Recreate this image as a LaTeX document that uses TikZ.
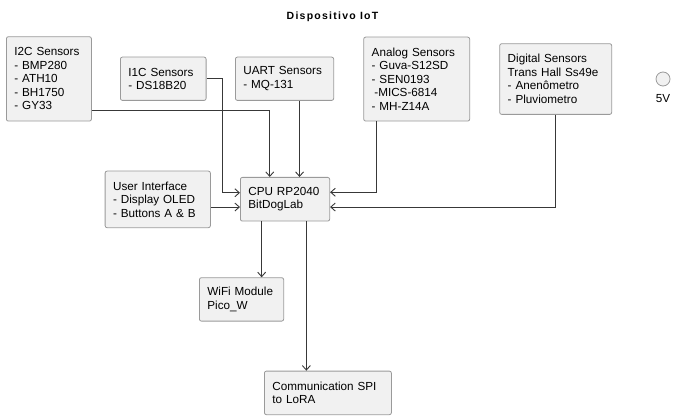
\documentclass[tikz,border=0pt]{standalone}
\usepackage{fontspec}
\setmainfont{Liberation Sans}
\usetikzlibrary{positioning,arrows.meta}
\definecolor{boxfill}{HTML}{F1F1F1}
\definecolor{boxdraw}{HTML}{9A9A9A}
\definecolor{wire}{HTML}{383838}
\tikzset{
  >={Straight Barb[length=4.5pt,width=8pt]},
  bloco/.style={
    rectangle,
    rounded corners=2pt,
    fill=boxfill,
    draw=boxdraw, line width=0.8pt,
    anchor=north west,
    inner xsep=8pt, inner ysep=0pt,
    align=left,
    font=\fontsize{11.7}{13.5}\selectfont
  },
  line/.style={draw=wire, line width=0.9pt, ->},
  rotulo/.style={font=\fontsize{11.7}{13.5}\selectfont, anchor=base},
}

\begin{document}
\begin{tikzpicture}
      [x=1pt, y=-1pt]
      \useasboundingbox (0,0) rectangle (676,419);
      \node[anchor=base, font=\fontsize{10.5}{12}\selectfont\bfseries\addfontfeatures{LetterSpace=12}]
        (titulo) at (332.5,19.3) {Dispositivo IoT};
      % sensores
      \node[bloco, text width=69pt, minimum height=84.4pt] (i2c) at (6,36.3)
        {I2C Sensors\\- BMP280\\- ATH10\\- BH1750\\- GY33};
      \node[bloco, text width=69.7pt, minimum height=43.3pt] (i1c) at (120,56.7)
        {I1C Sensors\\- DS18B20};
      \node[bloco, text width=82.3pt, minimum height=43.3pt] (uart) at (235,56.7)
        {UART Sensors\\- MQ-131};
      \node[bloco, text width=90pt, minimum height=84pt] (analog) at (363.3,36.7)
        {Analog Sensors\\- Guva-S12SD\\- SEN0193\\\hspace*{2.7pt}-MICS-6814\\- MH-Z14A};
      \node[bloco, text width=96pt, minimum height=70.7pt] (digital) at (499.3,43.3)
        {Digital Sensors\\Trans Hall Ss49e\\- Anenômetro\\- Pluviometro};
      \node[circle, draw=boxdraw, fill=boxfill, line width=0.8pt, minimum size=14pt,
        inner sep=0pt] (pwr) at (663,79) {};
      \node[rotulo] (pwrlbl) at (663,103) {5V};
      % controle
      \node[bloco, text width=89.3pt, minimum height=56.6pt] (ui) at (104.7,170.7)
        {User Interface\\- Display OLED\\- Buttons A \& B};
      \node[bloco, text width=73.3pt, minimum height=43.7pt] (cpu) at (240,177)
        {CPU RP2040\\BitDogLab};
      \node[bloco, text width=68.3pt, minimum height=43.4pt] (wifi) at (199,277.3)
        {WiFi Module\\Pico\_W};
      \node[bloco, text width=111pt, minimum height=43.6pt] (comm) at (264,370.7)
        {Communication SPI\\to LoRA};
      % ligacoes
      \draw[line] ([yshift=-31.5pt]i2c.east) -| ([xshift=-15.3pt]cpu.north);
      \draw[line] (i1c.east) -- ++(16.3,0) |- ([yshift=6.5pt]cpu.west);
      \draw[line] ([xshift=15pt]uart.south) -- ([xshift=15pt]uart.south |- cpu.north);
      \draw[line] ([yshift=-7.8pt]cpu.west -| ui.east) -- ([yshift=-7.8pt]cpu.west);
      \draw[line] ([xshift=13.4pt]analog.south west) |- ([yshift=7pt]cpu.east);
      \draw[line] (digital.south) |- ([yshift=-7.8pt]cpu.east);
      \draw[line] ([xshift=-23.4pt]cpu.south) -- ([xshift=-23.4pt]cpu.south |- wifi.north);
      \draw[line] ([xshift=21.3pt]cpu.south) -- ([xshift=21.3pt]cpu.south |- comm.north);
    \end{tikzpicture}
\end{document}
